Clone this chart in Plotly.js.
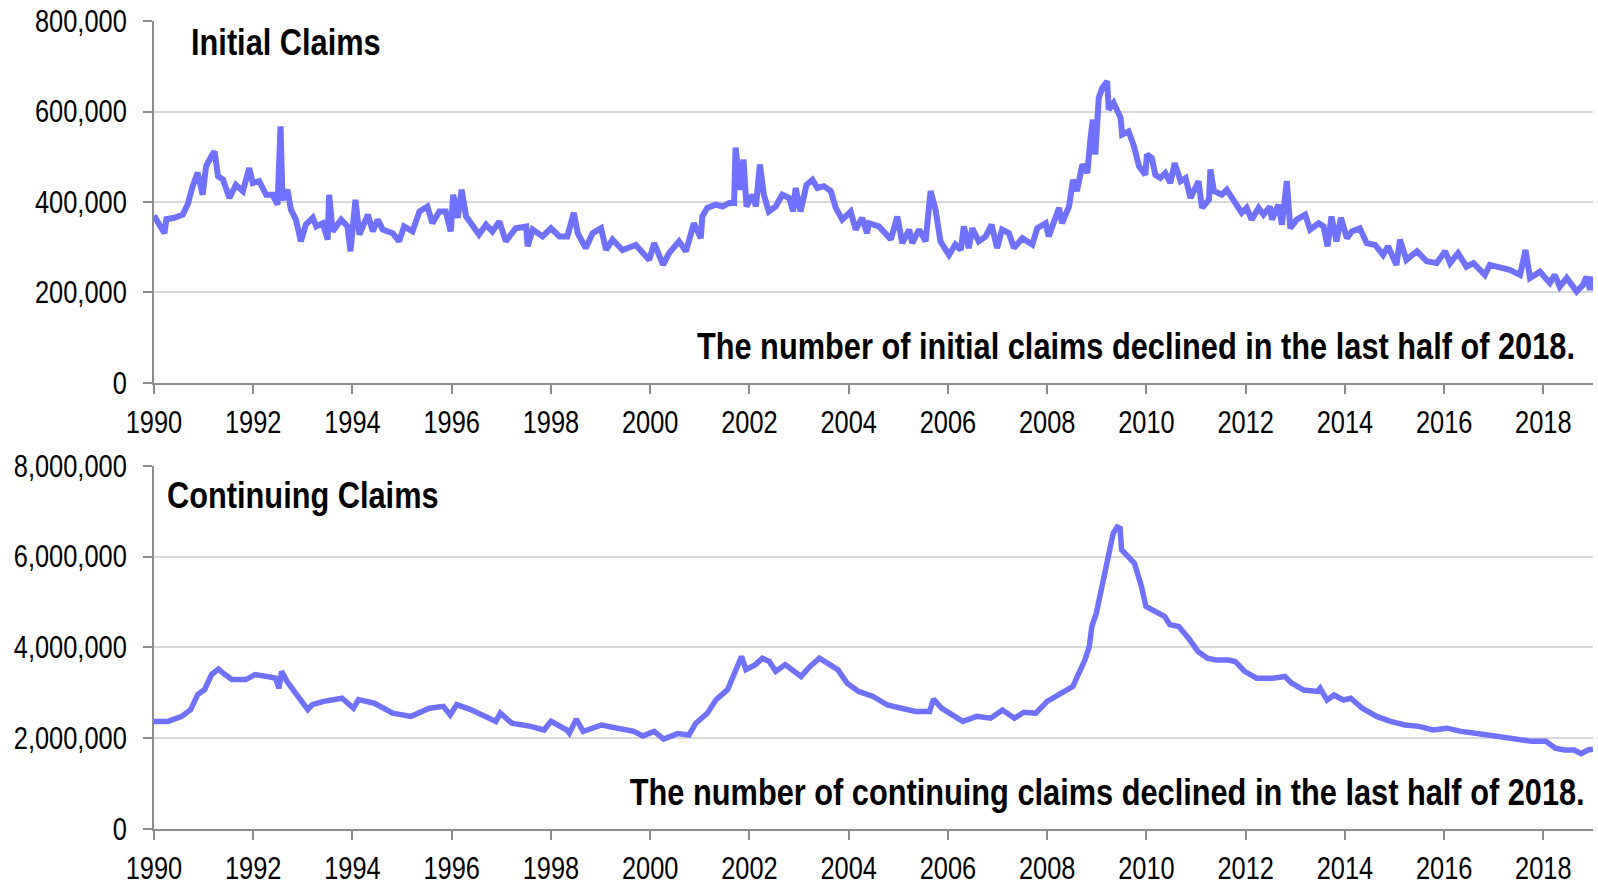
<!DOCTYPE html>
<html>
<head>
<meta charset="utf-8">
<script src="https://cdn.plot.ly/plotly-3.0.1.min.js"></script>
<style>html,body{margin:0;padding:0;background:#fff;}#chart{width:1598px;height:885px;}</style>
</head>
<body>
<div id="chart"></div>
<script>
// ---- Initial claims (decimal year, value) ----
var initialYears = [
1990.00,1990.11,1990.21,1990.25,1990.41,1990.58,1990.68,1990.78,1990.88,1990.98,
1991.05,1991.15,1991.22,1991.29,1991.39,1991.52,1991.65,1991.79,1991.92,1991.99,
1992.12,1992.26,1992.39,1992.49,1992.55,1992.59,1992.69,1992.76,1992.86,1992.96,
1993.06,1993.20,1993.27,1993.40,1993.50,1993.53,1993.60,1993.77,1993.90,1993.96,
1994.06,1994.14,1994.31,1994.41,1994.51,1994.61,1994.81,1994.94,1995.04,1995.21,
1995.35,1995.51,1995.61,1995.75,1995.88,1995.98,1996.03,1996.12,1996.20,1996.29,
1996.42,1996.55,1996.69,1996.82,1996.96,1997.09,1997.29,1997.50,1997.53,1997.63,
1997.83,1998.00,1998.17,1998.33,1998.46,1998.54,1998.70,1998.84,1999.01,1999.11,
1999.24,1999.44,1999.71,1999.84,1999.98,2000.08,2000.26,2000.38,2000.58,2000.72,
2000.82,2000.88,2001.02,2001.05,2001.15,2001.32,2001.46,2001.59,2001.69,2001.72,
2001.82,2001.88,2001.94,2002.06,2002.13,2002.21,2002.29,2002.39,2002.53,2002.66,
2002.80,2002.88,2002.93,2003.03,2003.15,2003.27,2003.37,2003.50,2003.64,2003.74,
2003.87,2004.04,2004.14,2004.27,2004.37,2004.41,2004.61,2004.85,2004.98,2005.08,
2005.22,2005.28,2005.42,2005.55,2005.65,2005.75,2005.85,2006.02,2006.15,2006.26,
2006.32,2006.42,2006.49,2006.62,2006.76,2006.88,2006.99,2007.09,2007.23,2007.33,
2007.50,2007.70,2007.80,2007.97,2008.03,2008.14,2008.24,2008.30,2008.44,2008.52,
2008.60,2008.71,2008.81,2008.87,2008.92,2008.97,2009.04,2009.11,2009.21,2009.24,
2009.34,2009.48,2009.51,2009.64,2009.75,2009.85,2009.98,2010.01,2010.11,2010.18,
2010.28,2010.38,2010.48,2010.57,2010.69,2010.79,2010.89,2011.05,2011.12,2011.26,
2011.29,2011.36,2011.52,2011.62,2011.75,2011.92,2012.02,2012.12,2012.26,2012.36,
2012.49,2012.53,2012.66,2012.73,2012.83,2012.90,2013.03,2013.20,2013.30,2013.47,
2013.57,2013.65,2013.73,2013.83,2013.92,2014.04,2014.14,2014.30,2014.44,2014.61,
2014.77,2014.87,2015.04,2015.11,2015.24,2015.45,2015.65,2015.85,2016.02,2016.12,
2016.28,2016.45,2016.59,2016.82,2016.92,2017.12,2017.32,2017.53,2017.64,2017.73,
2017.93,2018.13,2018.23,2018.33,2018.47,2018.67,2018.80,2018.87,2018.94,2019.00
];
var initialClaims = [
370000,352000,331000,362000,365000,372000,395000,435000,465000,416000,
479000,500000,512000,457000,450000,409000,438000,424000,475000,442000,
446000,416000,416000,394000,567000,405000,427000,383000,361000,313000,
350000,365000,346000,353000,317000,416000,335000,361000,346000,291000,
405000,328000,372000,335000,361000,339000,331000,313000,346000,335000,
379000,390000,353000,379000,379000,335000,416000,365000,427000,368000,
346000,328000,350000,335000,357000,313000,342000,346000,302000,339000,
324000,342000,324000,324000,376000,331000,298000,331000,342000,294000,
317000,294000,305000,287000,272000,309000,261000,287000,313000,291000,
331000,353000,320000,368000,387000,394000,390000,398000,398000,520000,
427000,494000,390000,416000,390000,483000,416000,379000,390000,416000,
409000,379000,431000,379000,438000,449000,431000,435000,424000,387000,
361000,379000,339000,365000,331000,353000,346000,317000,368000,309000,
339000,309000,339000,313000,424000,383000,313000,283000,306000,294000,
346000,298000,342000,313000,324000,350000,298000,339000,331000,298000,
320000,306000,342000,353000,324000,353000,387000,353000,390000,449000,
424000,483000,464000,538000,582000,505000,630000,652000,667000,604000,
619000,586000,549000,556000,523000,479000,460000,505000,497000,460000,
453000,464000,442000,486000,446000,453000,409000,446000,387000,405000,
472000,424000,416000,427000,405000,376000,387000,361000,387000,372000,
390000,361000,394000,350000,446000,342000,361000,372000,339000,353000,
346000,302000,368000,313000,365000,320000,335000,342000,309000,305000,
283000,302000,261000,317000,272000,291000,269000,265000,291000,265000,
287000,257000,265000,239000,261000,257000,250000,239000,294000,232000,
246000,221000,239000,213000,232000,202000,217000,235000,206000,235000
];

// ---- Continuing claims (decimal year, value) ----
var continuingYears = [
1990.00,1990.28,1990.56,1990.74,1990.88,1991.02,1991.16,1991.30,1991.43,1991.57,
1991.85,1992.04,1992.27,1992.45,1992.52,1992.57,1992.68,1992.87,1993.10,1993.19,
1993.42,1993.79,1994.02,1994.12,1994.44,1994.81,1995.18,1995.55,1995.83,1995.97,
1996.10,1996.38,1996.66,1996.89,1996.98,1997.21,1997.59,1997.86,1998.00,1998.32,
1998.37,1998.51,1998.65,1999.02,1999.34,1999.67,1999.85,2000.08,2000.27,2000.55,
2000.78,2000.92,2001.15,2001.33,2001.56,2001.75,2001.84,2001.93,2002.12,2002.26,
2002.40,2002.53,2002.72,2003.04,2003.22,2003.41,2003.60,2003.78,2003.97,2004.20,
2004.49,2004.78,2005.06,2005.35,2005.63,2005.71,2005.87,2006.11,2006.30,2006.58,
2006.86,2007.10,2007.34,2007.53,2007.77,2008.00,2008.29,2008.52,2008.62,2008.76,
2008.85,2008.90,2008.99,2009.09,2009.23,2009.33,2009.41,2009.47,2009.50,2009.61,
2009.76,2009.90,2009.99,2010.18,2010.37,2010.47,2010.65,2010.85,2011.04,2011.23,
2011.41,2011.65,2011.79,2011.98,2012.22,2012.55,2012.79,2012.93,2013.17,2013.45,
2013.50,2013.64,2013.78,2013.97,2014.12,2014.35,2014.64,2014.92,2015.21,2015.49,
2015.78,2016.06,2016.34,2016.63,2016.91,2017.20,2017.48,2017.77,2018.05,2018.24,
2018.43,2018.62,2018.76,2018.90,2019.00
];
var continuingClaims = [
2370000,2370000,2480000,2630000,2960000,3070000,3400000,3520000,3400000,3290000,
3290000,3400000,3360000,3320000,3100000,3470000,3250000,2990000,2630000,2740000,
2810000,2880000,2660000,2850000,2770000,2550000,2480000,2660000,2700000,2510000,
2740000,2630000,2480000,2370000,2550000,2330000,2260000,2180000,2370000,2180000,
2110000,2420000,2150000,2290000,2220000,2150000,2050000,2150000,1980000,2100000,
2070000,2330000,2550000,2850000,3070000,3580000,3800000,3510000,3620000,3760000,
3690000,3470000,3620000,3360000,3580000,3760000,3620000,3510000,3210000,3030000,
2920000,2730000,2660000,2590000,2590000,2860000,2660000,2480000,2370000,2480000,
2440000,2620000,2440000,2570000,2550000,2810000,2990000,3140000,3390000,3720000,
4020000,4460000,4750000,5270000,6070000,6510000,6650000,6620000,6150000,6040000,
5850000,5340000,4900000,4790000,4680000,4500000,4460000,4200000,3910000,3760000,
3720000,3720000,3690000,3470000,3320000,3320000,3360000,3210000,3060000,3030000,
3100000,2840000,2950000,2840000,2880000,2660000,2480000,2370000,2290000,2260000,
2180000,2220000,2150000,2110000,2070000,2000000,1960000,1930000,1930000,1780000,
1740000,1740000,1660000,1740000,1760000
];

var yearTicks = [1990,1992,1994,1996,1998,2000,2002,2004,2006,2008,2010,2012,2014,2016,2018];
var initialTicks = [0,200000,400000,600000,800000];
var continuingTicks = [0,2000000,4000000,6000000,8000000];

var titleTop = 'Initial Claims';
var noteTop = 'The number of initial claims declined in the last half of 2018.';
var titleBottom = 'Continuing Claims';
var noteBottom = 'The number of continuing claims declined in the last half of 2018.';

var FONT = "'Liberation Sans', Arial, sans-serif";
var LINE = '#7171FF';
var NARROW = 0.82;   // horizontal squeeze to mimic a narrow face

var traces = [
  {x: initialYears, y: initialClaims, xaxis: 'x', yaxis: 'y', type: 'scatter', mode: 'lines',
   line: {color: LINE, width: 6}, hoverinfo: 'skip'},
  {x: continuingYears, y: continuingClaims, xaxis: 'x2', yaxis: 'y2', type: 'scatter', mode: 'lines',
   line: {color: LINE, width: 5.5}, hoverinfo: 'skip'}
];

function xAxis(anchor) {
  return {anchor: anchor, range: [1990, 2019], tickvals: yearTicks, ticktext: yearTicks.map(String),
    showgrid: false, zeroline: false, showline: true, linecolor: '#8c8c8c', linewidth: 2,
    ticks: 'outside', ticklen: 9, tickwidth: 2, tickcolor: '#8c8c8c',
    tickfont: {family: FONT, size: 31, color: '#000'}, ticklabelstandoff: 2, fixedrange: true};
}
function yAxis(anchor, domain, range, vals) {
  return {anchor: anchor, domain: domain, range: range, tickvals: vals,
    ticktext: vals.map(function(v){return v.toLocaleString('en-US');}),
    showgrid: true, gridcolor: '#d9d9d9', gridwidth: 2, zeroline: false,
    showline: true, linecolor: '#8c8c8c', linewidth: 2,
    ticks: 'outside', ticklen: 9, tickwidth: 2, tickcolor: '#8c8c8c',
    tickfont: {family: FONT, size: 31, color: '#000'}, ticklabelstandoff: 10, fixedrange: true};
}

var annFont = {family: FONT, size: 37.5, color: '#000'};
var layout = {
  width: 1598, height: 885,
  margin: {l: 154, r: 5, t: 21, b: 56},
  paper_bgcolor: '#fff', plot_bgcolor: '#fff',
  showlegend: false,
  xaxis: xAxis('y'),
  yaxis: yAxis('x', [0.552, 1], [0, 800000], initialTicks),
  xaxis2: xAxis('y2'),
  yaxis2: yAxis('x2', [0, 0.4496], [0, 8000000], continuingTicks),
  annotations: [
    {xref: 'paper', yref: 'paper', x: 0.0245, y: 0.974, xanchor: 'left', yanchor: 'middle',
     text: '<b>' + titleTop + '</b>', showarrow: false, font: annFont},
    {xref: 'paper', yref: 'paper', x: 0.9889, y: 0.5978, xanchor: 'right', yanchor: 'middle',
     text: '<b>' + noteTop + '</b>', showarrow: false, font: annFont},
    {xref: 'paper', yref: 'paper', x: 0.0078, y: 0.4134, xanchor: 'left', yanchor: 'middle',
     text: '<b>' + titleBottom + '</b>', showarrow: false, font: annFont},
    {xref: 'paper', yref: 'paper', x: 0.9958, y: 0.0458, xanchor: 'right', yanchor: 'middle',
     text: '<b>' + noteBottom + '</b>', showarrow: false, font: annFont}
  ]
};

function squeeze(el, px, py) {
  var t = el.getAttribute('transform') || '';
  el.setAttribute('transform', t + ' translate(' + px + ',' + py + ') scale(' + NARROW + ',1) translate(' + (-px) + ',' + (-py) + ')');
}

Plotly.newPlot('chart', traces, layout, {displayModeBar: false, staticPlot: true}).then(function (gd) {
  gd.querySelectorAll('.xaxislayer-above text, .yaxislayer-above text').forEach(function (el) {
    squeeze(el, +el.getAttribute('x') || 0, +el.getAttribute('y') || 0);
  });
  gd.querySelectorAll('.annotation').forEach(function (g) {
    var idx = +g.getAttribute('data-index');
    var el = g.querySelector('.annotation-text');
    if (!el) return;
    var bb = el.getBBox();
    var anchor = layout.annotations[idx].xanchor;
    var px = anchor === 'left' ? bb.x : (anchor === 'right' ? bb.x + bb.width : bb.x + bb.width / 2);
    squeeze(el, px, bb.y + bb.height / 2);
  });
});
</script>
</body>
</html>
